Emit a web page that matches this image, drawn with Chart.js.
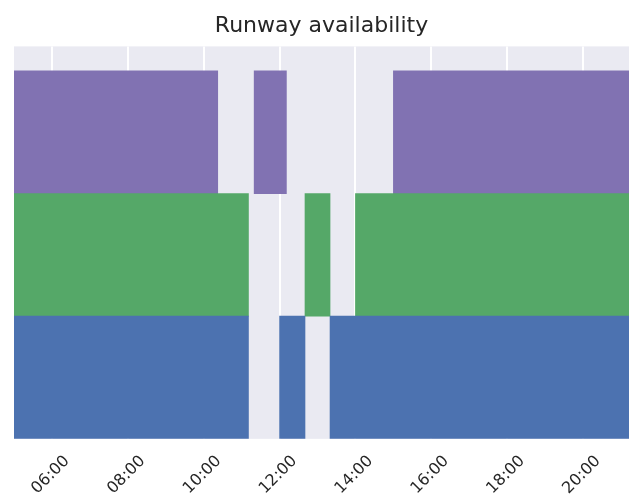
<!DOCTYPE html>
<html>
<head>
<meta charset="utf-8">
<script src="https://cdn.jsdelivr.net/npm/chart.js@4/dist/chart.umd.min.js"></script>
<style>
  html, body { margin: 0; padding: 0; background: #ffffff; }
  #wrap { width: 629px; height: 502px; position: relative; }
</style>
</head>
<body>
<div id="wrap"><canvas id="chart"></canvas></div>
<script>
// Runway rows, bottom to top, and their open periods (hours of the day)
const runways = ['Runway 1', 'Runway 2', 'Runway 3'];
const rowCenters = [0.5, 1.5, 2.5];
const runway1Open = [[5.0, 11.18], [12.0, 12.67], [13.33, 21.5]];
const runway2Open = [[5.0, 11.18], [12.67, 13.33], [14.0, 21.5]];
const runway3Open = [[5.0, 10.37], [11.33, 12.18], [15.0, 21.5]];
const tickHours = [6, 8, 10, 12, 14, 16, 18, 20];
const tickLabels = ['06:00', '08:00', '10:00', '12:00', '14:00', '16:00', '18:00', '20:00'];

const openPeriods = [runway1Open, runway2Open, runway3Open];
const colors = ['#4C72B0', '#55A868', '#8172B2'];

const datasets = runways.map((name, r) => ({
  label: name,
  data: openPeriods[r].map(p => ({ x: p, y: rowCenters[r] })),
  backgroundColor: colors[r],
  borderWidth: 0,
  barPercentage: 1.0,
  categoryPercentage: 1.0,
  grouped: false
}));

// Light plot background painted under the grid
const plotBackground = {
  id: 'plotBackground',
  beforeDraw(chart) {
    const { ctx, chartArea: a } = chart;
    ctx.save();
    ctx.fillStyle = '#EAEAF2';
    ctx.fillRect(a.left, a.top, a.right - a.left, a.bottom - a.top);
    ctx.restore();
  }
};

Chart.defaults.font.family = '"DejaVu Sans", sans-serif';
Chart.defaults.color = '#262626';

const chart = new Chart(document.getElementById('chart'), {
  type: 'bar',
  data: { datasets },
  options: {
    indexAxis: 'y',
    responsive: true,
    maintainAspectRatio: false,
    animation: false,
    layout: { padding: { left: 14, right: 0, top: 0, bottom: -9 } },
    plugins: {
      legend: { display: false },
      tooltip: { enabled: false },
      title: {
        display: true,
        text: 'Runway availability',
        color: '#262626',
        font: { size: 22, weight: 'normal' },
        padding: { top: 13, bottom: 7 }
      }
    },
    scales: {
      x: {
        type: 'linear',
        min: 5.0,
        max: 21.21,
        border: { display: false },
        grid: { color: '#ffffff', lineWidth: 2, drawTicks: false },
        afterBuildTicks(scale) {
          scale.ticks = tickHours.map(v => ({ value: v }));
        },
        ticks: {
          minRotation: 45,
          maxRotation: 45,
          padding: 13,
          labelOffset: 15,
          font: { size: 16 },
          color: '#262626',
          callback: (v) => tickLabels[tickHours.indexOf(v)]
        }
      },
      y: {
        type: 'linear',
        min: 0,
        max: 3.2,
        offset: false,
        display: false
      }
    }
  },
  plugins: [plotBackground]
});

// Each row is one unit tall on the y scale: size the bars to that unit
const y = chart.scales.y;
const rowHeight = Math.abs(y.getPixelForValue(1) - y.getPixelForValue(0));
chart.data.datasets.forEach(ds => { ds.barThickness = rowHeight; });
chart.update();
</script>
</body>
</html>
